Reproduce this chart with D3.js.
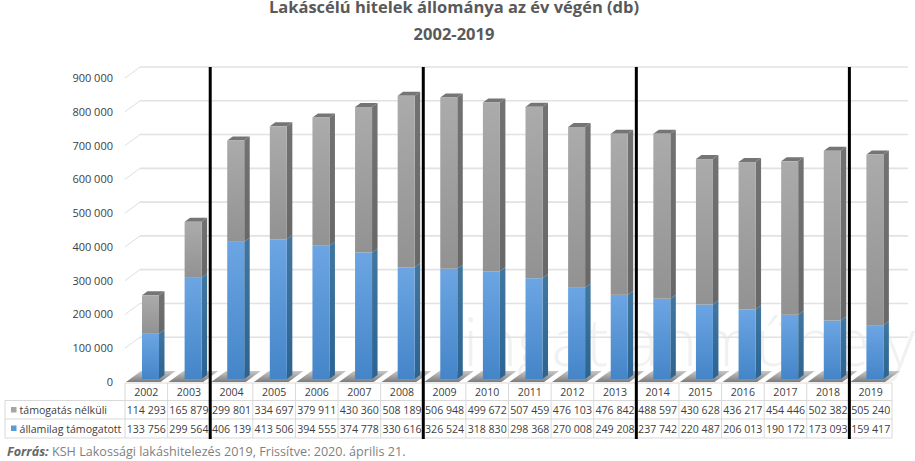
<!DOCTYPE html>
<html><head><meta charset="utf-8">
<script src="https://cdn.jsdelivr.net/npm/d3@7"></script>
<style>html,body{margin:0;padding:0;background:#fff;overflow:hidden}svg{display:block}text{font-family:"Open Sans",sans-serif}</style>
</head><body><svg id="c" width="915" height="461"></svg>
<script>
const years=[2002,2003,2004,2005,2006,2007,2008,2009,2010,2011,2012,2013,2014,2015,2016,2017,2018,2019];
const unsupported=[114293,165879,299801,334697,379911,430360,508189,506948,499672,507459,476103,476842,488597,430628,436217,454446,502382,505240];
const supported=[133756,299564,406139,413506,394555,374778,330616,326524,318830,298368,270008,249208,237742,220487,206013,190172,173093,159417];
const seriesNames=["támogatás nélküli","államilag támogatott"];
const yTicks=[0,100000,200000,300000,400000,500000,600000,700000,800000,900000];
const dividers=[2003,2008,2013,2018];
const titleLines=["Lakáscélú hitelek állománya az év végén (db)","2002-2019"];

const svg=d3.select("#c");
const fmt=d3.formatLocale({decimal:",",thousands:" ",grouping:[3],currency:["",""]}).format(",d");
const x=d3.scaleBand().domain(years).range([125,892]);
const y=d3.scaleLinear().domain([0,900000]).range([382,78]);
const wallDx=15,wallDy=-11,barInX=17,barW=17,barDy=-3,sideDx=5.5,sideDy=-4;
const defs=svg.append("defs");
function grad(id,stops,horizontal){
  const g=defs.append("linearGradient").attr("id",id).attr("x1",0).attr("y1",0).attr("x2",horizontal?1:0).attr("y2",horizontal?0:1);
  stops.forEach((c,i)=>g.append("stop").attr("offset",i/(stops.length-1)).attr("stop-color",c));
}
grad("gGray",["#ababab","#929292"]);
grad("gBlue",["#6ca5e3","#4485c8"]);
grad("gGraySide",["#727272","#686868"]);
grad("gBlueSide",["#41779f","#2c6390"]);
grad("gFloor",["#c8c8c8","#7c7c7c"]);

// title
svg.append("g").selectAll("text").data(titleLines).join("text")
  .attr("x",454).attr("y",(d,i)=>13+i*26.5).attr("text-anchor","middle")
  .attr("font-size",16.5).attr("font-weight",700).attr("fill","#595959").text(d=>d);

// watermark
svg.append("text").attr("x",915).attr("y",366).attr("text-anchor","end")
  .attr("font-size",66).attr("font-weight",300).attr("fill","#f1f1f1").text("ingatlanműhely");

// grid on back wall + side wall
const grid=svg.append("g");
yTicks.filter(v=>v>0).forEach(v=>{
  grid.append("line").attr("x1",125).attr("y1",y(v)).attr("x2",125+wallDx).attr("y2",y(v)+wallDy).attr("stroke","#dedede").attr("stroke-width",1);
  grid.append("line").attr("x1",125+wallDx).attr("y1",y(v)+wallDy).attr("x2",892+wallDx+1).attr("y2",y(v)+wallDy).attr("stroke","#e2e2e2").attr("stroke-width",1.6);
});

// floor shadows
svg.append("g").selectAll("path").data(years).join("path")
  .attr("d",d=>{const l=x(d)+1,r=x(d)+x.bandwidth()-7,b=y(0),t=y(0)+wallDy;
    return `M${l},${b}L${r},${b}L${r+wallDx},${t}L${l+wallDx},${t}Z`;})
  .attr("fill","url(#gFloor)");

// y axis
const axisG=svg.append("g").attr("transform","translate(113,0)").call(d3.axisLeft(y).tickValues(yTicks).tickFormat(fmt).tickSize(0).tickPadding(0));
axisG.select(".domain").remove();
axisG.selectAll("text").attr("font-size",11).attr("fill","#404040").style("font-family",'"Open Sans",sans-serif');

// bars
const bars=svg.append("g");
const by=v=>y(v)+barDy;
years.forEach((yr,i)=>{
  const l=x(yr)+barInX,a=supported[i],b=supported[i]+unsupported[i];
  const g=bars.append("g");
  const r=l+barW;
  // sides
  g.append("path").attr("d",`M${r},${by(0)}L${r+sideDx},${by(0)+sideDy}L${r+sideDx},${by(a)+sideDy}L${r},${by(a)}Z`).attr("fill","url(#gBlueSide)");
  g.append("path").attr("d",`M${r},${by(a)}L${r+sideDx},${by(a)+sideDy}L${r+sideDx},${by(b)+sideDy}L${r},${by(b)}Z`).attr("fill","url(#gGraySide)");
  // top
  g.append("path").attr("d",`M${l},${by(b)}L${r},${by(b)}L${r+sideDx},${by(b)+sideDy}L${l+sideDx},${by(b)+sideDy}Z`).attr("fill","#757575");
  // fronts
  g.append("rect").attr("x",l).attr("y",by(a)).attr("width",barW).attr("height",by(0)-by(a)).attr("fill","url(#gBlue)");
  g.append("rect").attr("x",l).attr("y",by(b)).attr("width",barW).attr("height",by(a)-by(b)).attr("fill","url(#gGray)");
});

// data table
const rowY=[383,400.5,419,438];
const t=svg.append("g").attr("stroke","#d9d9d9").attr("stroke-width",1);
t.append("line").attr("x1",125).attr("x2",892).attr("y1",rowY[0]).attr("y2",rowY[0]);
[1,2,3].forEach(i=>t.append("line").attr("x1",5).attr("x2",892).attr("y1",rowY[i]).attr("y2",rowY[i]));
t.append("line").attr("x1",5).attr("x2",5).attr("y1",rowY[1]).attr("y2",rowY[3]);
[...years.map(d=>x(d)),892].forEach(v=>t.append("line").attr("x1",v).attr("x2",v).attr("y1",rowY[0]).attr("y2",rowY[3]));
const tt=svg.append("g").attr("font-size",10.6).attr("fill","#404040").attr("text-anchor","middle");
years.forEach((yr,i)=>{
  const cx=x(yr)+x.bandwidth()/2;
  tt.append("text").attr("x",cx).attr("y",396).text(yr);
  tt.append("text").attr("x",cx).attr("y",414).text(fmt(unsupported[i]));
  tt.append("text").attr("x",cx).attr("y",432.5).text(fmt(supported[i]));
});
// legend keys
[["#a5a5a5",seriesNames[0],410],["#5b9bd5",seriesNames[1],428.5]].forEach(([c,n,cy])=>{
  svg.append("rect").attr("x",11).attr("y",cy-3).attr("width",5.5).attr("height",5.5).attr("fill",c);
  svg.append("text").attr("x",19.5).attr("y",cy+4).attr("font-size",10.6).attr("fill","#404040").text(n);
});

// dividers
svg.append("g").selectAll("line").data(dividers).join("line")
  .attr("x1",d=>x(d)+x.bandwidth()).attr("x2",d=>x(d)+x.bandwidth())
  .attr("y1",67).attr("y2",439).attr("stroke","#000").attr("stroke-width",3);

// source
const src=svg.append("text").attr("x",7).attr("y",456).attr("font-size",12.6).attr("fill","#7f7f7f");
src.append("tspan").attr("font-weight",700).attr("font-style","italic").attr("fill","#666").text("Forrás:");
src.append("tspan").text(" KSH Lakossági lakáshitelezés 2019, Frissítve: 2020. április 21.");
</script></body></html>
